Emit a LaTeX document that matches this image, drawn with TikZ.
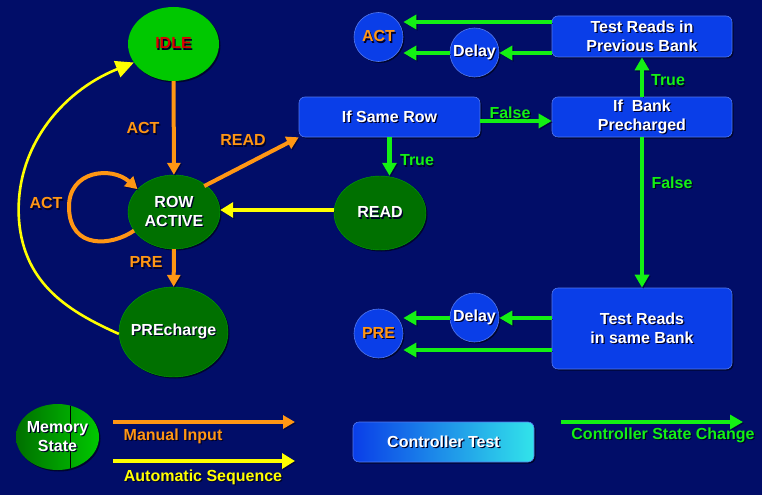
\documentclass[tikz,border=0pt]{standalone}
\usepackage{fontspec}
\setmainfont{Liberation Sans}
\usetikzlibrary{arrows.meta,shapes.geometric,shadows}

\definecolor{bgnavy}{RGB}{1,13,104}
\definecolor{stlight}{RGB}{0,200,0}
\definecolor{stdark}{RGB}{0,112,0}
\definecolor{ctlblue}{RGB}{10,62,232}
\definecolor{ctlcyan}{RGB}{50,228,234}
\definecolor{arrgreen}{RGB}{20,240,20}
\definecolor{arrorange}{RGB}{255,150,20}
\definecolor{arryellow}{RGB}{255,255,0}
\definecolor{idlered}{RGB}{220,0,0}
\definecolor{txtshadow}{RGB}{0,0,40}

% text with a small dark drop shadow
\newcommand\shd[1]{\leavevmode\rlap{\hspace{1.2pt}\raisebox{-1.2pt}{\color{txtshadow}#1}}#1}
% same, with zero width so the ellipse keeps its own size
\newcommand\shz[1]{\makebox[0pt]{\shd{#1}}}

\tikzset{
  x=1pt, y=-1pt,
  txt/.style={font=\fontsize{16}{19}\selectfont\bfseries, align=center},
  shade3d/.style={drop shadow={shadow xshift=1.5pt, shadow yshift=-1.5pt, fill=black, opacity=0.55}},
  memstate/.style={ellipse, inner sep=0pt, txt, text=white, shade3d},
  ctlbox/.style={rectangle, rounded corners=6pt, fill=ctlblue, draw=ctlblue!70!white, line width=0.6pt,
                 inner sep=0pt, txt, text=white, shade3d},
  ctlcirc/.style={circle, fill=ctlblue, draw=ctlblue!70!white, line width=0.6pt, inner sep=0pt,
                  minimum size=49pt, txt, shade3d},
  lbl/.style={txt},
  arrshadow/.style={preaction={draw=txtshadow, opacity=0.6, transform canvas={shift={(1.2pt,-1.2pt)}}}},
  oarrow/.style={arrshadow, draw=arrorange, line width=4pt, -{Triangle[length=12pt,width=13pt]}},
  garrow/.style={arrshadow, draw=arrgreen, line width=4.2pt, -{Triangle[length=13pt,width=14pt]}},
  yarrow/.style={arrshadow, draw=arryellow, line width=4.2pt, -{Triangle[length=13pt,width=15pt]}},
  ythin/.style={draw=arryellow, line width=2.6pt, -{Triangle[length=18pt,width=17pt]}},
}

\begin{document}
\begin{tikzpicture}
\useasboundingbox (0,0) rectangle (762,495);
\fill[bgnavy] (0,0) rectangle (762,495);

% ---- memory states ----
\node[memstate, fill=stlight, minimum width=91pt, minimum height=74pt, text=idlered] (idle) at (173.5,44) {\shz{IDLE}};
\node[memstate, fill=stdark, draw=stlight!60!stdark, minimum width=92pt, minimum height=74pt] (row) at (174,212) {\shz{ROW}\\\shz{ACTIVE}};
\node[memstate, fill=stdark, draw=stlight!60!stdark, minimum width=109pt, minimum height=90pt] (pre) at (173.5,332) {\shz{PREcharge}};
\node[memstate, fill=stdark, draw=stlight!60!stdark, minimum width=92pt, minimum height=74pt] (read) at (380,213) {\shz{READ}};

% ---- controller tests ----
\node[ctlbox, minimum width=181pt, minimum height=40pt] (same) at (389.5,117) {\shd{If Same Row}};
\node[ctlbox, minimum width=180pt, minimum height=40pt] (bank) at (642,117) {\shd{If\ \ Bank}\\\shd{Precharged}};
\node[ctlbox, minimum width=180pt, minimum height=41pt] (prev) at (642,36.5) {\shd{Test Reads in}\\\shd{Previous Bank}};
\node[ctlbox, minimum width=180pt, minimum height=81pt] (samebank) at (642,328.5) {\shd{Test Reads}\\\shd{in same Bank}};

\node[ctlcirc, text=arrorange] (act) at (378.5,37) {\shz{ACT}};
\node[ctlcirc, text=white] (delay1) at (474.5,52.5) {\shz{Delay}};
\node[ctlcirc, text=arrorange] (prec) at (378.5,333.5) {\shz{PRE}};
\node[ctlcirc, text=white] (delay2) at (474.5,317.5) {\shz{Delay}};

% ---- memory state transitions ----
\draw[oarrow] (idle) -- (row);
\draw[oarrow] (row) -- (pre);
\draw[oarrow, shorten <=-2pt] (row.40) -- (same.south west);
\draw[oarrow] (row.205) .. controls (112,246) and (70,250) .. (69,208)
                        .. controls (68,170) and (112,166) .. (row.148);
\draw[yarrow] (read.west |- 0,210) -- (row.east |- 0,210);
\draw[ythin] (pre.182) .. controls (70,312) and (24,285) .. (19,220)
                       .. controls (14,150) and (60,92) .. (idle.205);

\node[lbl, text=arrorange] (lact1) at (143,129) {\shd{ACT}};
\node[lbl, text=arrorange] (lread) at (243,141) {\shd{READ}};
\node[lbl, text=arrorange] (lact2) at (46,204) {\shd{ACT}};
\node[lbl, text=arrorange] (lpre) at (146,263) {\shd{PRE}};

% ---- controller state changes ----
\draw[garrow] (same.south) -- (same.south |- read.north);
\draw[garrow] (same.east |- 0,121) -- (bank.west |- 0,121);
\draw[garrow] (bank.north) -- (prev.south);
\draw[garrow] (bank.south) -- (samebank.north);
\draw[garrow] (prev.west |- 0,22) -- (act.east |- 0,22);
\draw[garrow] (prev.west |- 0,53) -- (delay1.east |- 0,53);
\draw[garrow] (delay1.west |- 0,53) -- (act.east |- 0,53);
\draw[garrow] (samebank.west |- 0,318) -- (delay2.east |- 0,318);
\draw[garrow] (delay2.west |- 0,318) -- (prec.east |- 0,318);
\draw[garrow] (samebank.west |- 0,350) -- (prec.east |- 0,350);

\node[lbl, text=arrgreen] (ltrue1) at (417,161) {\shd{True}};
\node[lbl, text=arrgreen] (lfalse1) at (510,113) {\shd{False}};
\node[lbl, text=arrgreen] (ltrue2) at (668,81) {\shd{True}};
\node[lbl, text=arrgreen] (lfalse2) at (672,183) {\shd{False}};

% ---- legend ----
\begin{scope}
  \node[memstate, left color=stdark, right color=stlight, minimum width=83pt, minimum height=66pt] (mem) at (57.5,437) {};
  \begin{scope}
    \clip (mem.center) ellipse [x radius=41.5pt, y radius=33pt];
    \draw[black, line width=0.8pt] (70,404) -- (70,470);
  \end{scope}
  \node[txt, text=white] (memtxt) at (mem.center) {\shd{Memory}\\\shd{State}};
\end{scope}

\coordinate (mi1) at (113,422); \coordinate (mi2) at (295,422);
\coordinate (as1) at (113,461); \coordinate (as2) at (295,461);
\coordinate (cs1) at (561,422); \coordinate (cs2) at (743,422);
\draw[oarrow] (mi1) -- (mi2);
\draw[yarrow] (as1) -- (as2);
\draw[garrow] (cs1) -- (cs2);
\node[lbl, text=arrorange] (lmi) at (173,437) {\shd{Manual Input}};
\node[lbl, text=arryellow] (las) at (203,478) {\shd{Automatic Sequence}};
\node[lbl, text=arrgreen] (lcs) at (663,436) {\shd{Controller State Change}};

\node[rectangle, rounded corners=6pt, left color=ctlblue, right color=ctlcyan, draw=ctlblue!70!white,
      line width=0.6pt, minimum width=181pt, minimum height=40pt, txt, text=white, shade3d] (ctltest) at (443.5,442) {\shd{Controller Test}};
\end{tikzpicture}
\end{document}
